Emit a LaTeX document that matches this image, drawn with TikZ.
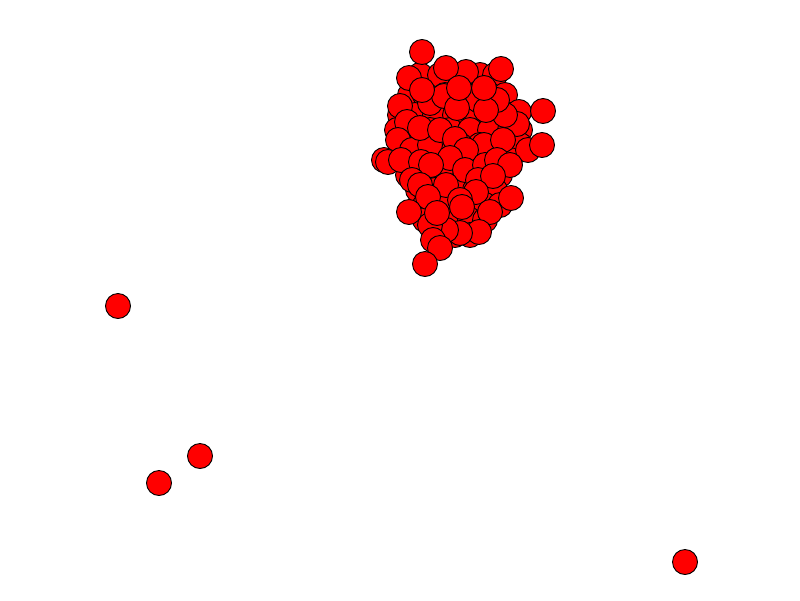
\documentclass[tikz,border=0pt]{standalone}
\begin{document}
\begin{tikzpicture}[x=1pt,y=-1pt,
  dot/.style={circle,draw=black,fill=red,line width=0.9pt,minimum size=25pt,inner sep=0pt}]
\useasboundingbox (0,0) rectangle (800,600);
% background of cluster
\foreach \x/\y [count=\i] in {420/75,440/75,460/75,480/75,495/75,
 410/95,425/95,445/95,465/95,490/95,505/95,
 400/115,415/115,435/115,455/115,475/115,495/115,510/115,
 397/130,410/130,430/130,450/130,470/130,490/130,510/130,520/130,
 402/145,420/145,440/145,460/145,480/145,500/145,520/145,
 402/160,415/160,435/160,455/160,475/160,495/160,510/160,
 408/175,425/175,445/175,465/175,485/175,500/175,
 418/190,435/190,455/190,475/190,495/190,
 425/205,445/205,465/205,485/205,500/205,
 425/220,440/220,455/220,470/220,485/220,
 440/235,455/235,470/235}
  \node[dot] (b\i) at (\x,\y) {};
% top layer of cluster
\foreach \x/\y [count=\i] in {
 519/112,528/150,517/124,505/115,497/100,478/100,
 400/106,407/122,430/103,444/96,457/108,486/110,
 398/140,412/150,430/145,420/128,440/130,455/139,
 484/145,503/140,466/150,450/158,
 384/160,388/162,401/160,421/162,431/165,
 465/170,485/165,497/160,510/165,478/180,493/176,
 412/180,420/185,446/185,428/197,476/192,460/200,
 490/212,462/207,479/232,460/233,446/230,430/225,
 437/213,409/212,511/198,433/240,440/248,425/264,
 409/78,466/72,446/68,422/90,459/88,484/88,501/69,422/52,
 543/111,542/145}
  \node[dot] (t\i) at (\x,\y) {};
% outliers
\node[dot] (o1) at (118,306) {};
\node[dot] (o2) at (200,456) {};
\node[dot] (o3) at (159,483) {};
\node[dot] (o4) at (685,562) {};
\end{tikzpicture}
\end{document}
